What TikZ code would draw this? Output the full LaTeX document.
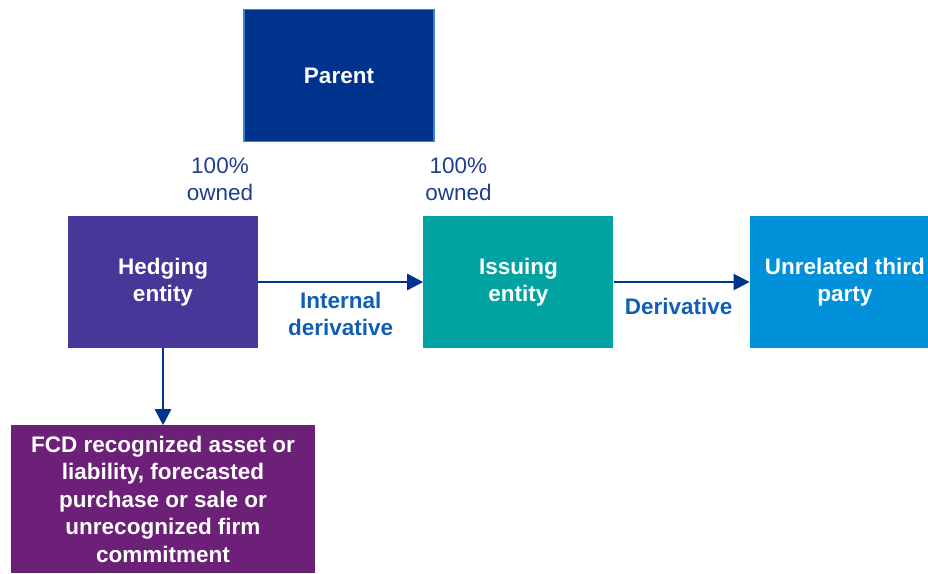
\documentclass[tikz,border=0pt]{standalone}
\usepackage{fontspec}
\setmainfont{Liberation Sans}
\usetikzlibrary{arrows.meta,positioning}
\definecolor{parentblue}{HTML}{00338D}
\definecolor{parentedge}{HTML}{3F7FD0}
\definecolor{hedgepurple}{HTML}{483698}
\definecolor{issueteal}{HTML}{00A3A1}
\definecolor{thirdblue}{HTML}{0091DA}
\definecolor{fcdpurple}{HTML}{6D2077}
\definecolor{ownblue}{HTML}{1E3F8E}
\definecolor{derivblue}{HTML}{105EB5}
\definecolor{arrowblue}{HTML}{00338D}
\tikzset{
    entity/.style={
        rectangle,
        align=center,
        inner sep=0pt,
        minimum width=190pt,
        minimum height=132pt,
        text=white,
        font=\bfseries\fontsize{22.5}{27.5}\selectfont
    },
    owned/.style={
        align=center,
        text=ownblue,
        font=\fontsize{22.5}{27}\selectfont
    },
    deriv/.style={
        align=center,
        text=derivblue,
        font=\bfseries\fontsize{22.5}{27}\selectfont
    },
    flow/.style={-{Triangle[length=16pt,width=16pt]}, line width=2.5pt, draw=arrowblue}
}

\begin{document}
\begin{tikzpicture}[x=1pt, y=1pt, node distance=75pt and 165pt]
    \useasboundingbox (0,0) rectangle (928,-573);
    \clip (0,0) rectangle (928,-573);

    \node[entity, fill=parentblue, draw=parentedge, line width=1.5pt] (parent) at (339,-75.5) {Parent};
    \node[entity, fill=hedgepurple] (hedging) at (163,-282) {Hedging\\entity};
    \node[entity, fill=issueteal, right=of hedging] (issuing) {Issuing\\entity};
    \node[entity, fill=thirdblue, right=136pt of issuing] (third) {Unrelated third\\party};
    \node[entity, fill=fcdpurple, minimum width=304pt, minimum height=148pt, below=77pt of hedging] (fcd)
        {FCD recognized asset or\\liability, forecasted\\purchase or sale or\\unrecognized firm\\commitment};

    \node[owned] (ownhedge) at ([shift={(57,37)}]hedging.north) {100\%\\owned};
    \node[owned] (ownissue) at ([shift={(-60,37)}]issuing.north) {100\%\\owned};

    \draw[flow] (hedging) -- node[deriv, below=6pt]{Internal\\derivative} (issuing);
    \draw[flow] (issuing) -- node[deriv, below=12pt, xshift=-3pt]{Derivative} (third);
    \draw[flow] (hedging) -- (fcd);
\end{tikzpicture}
\end{document}
